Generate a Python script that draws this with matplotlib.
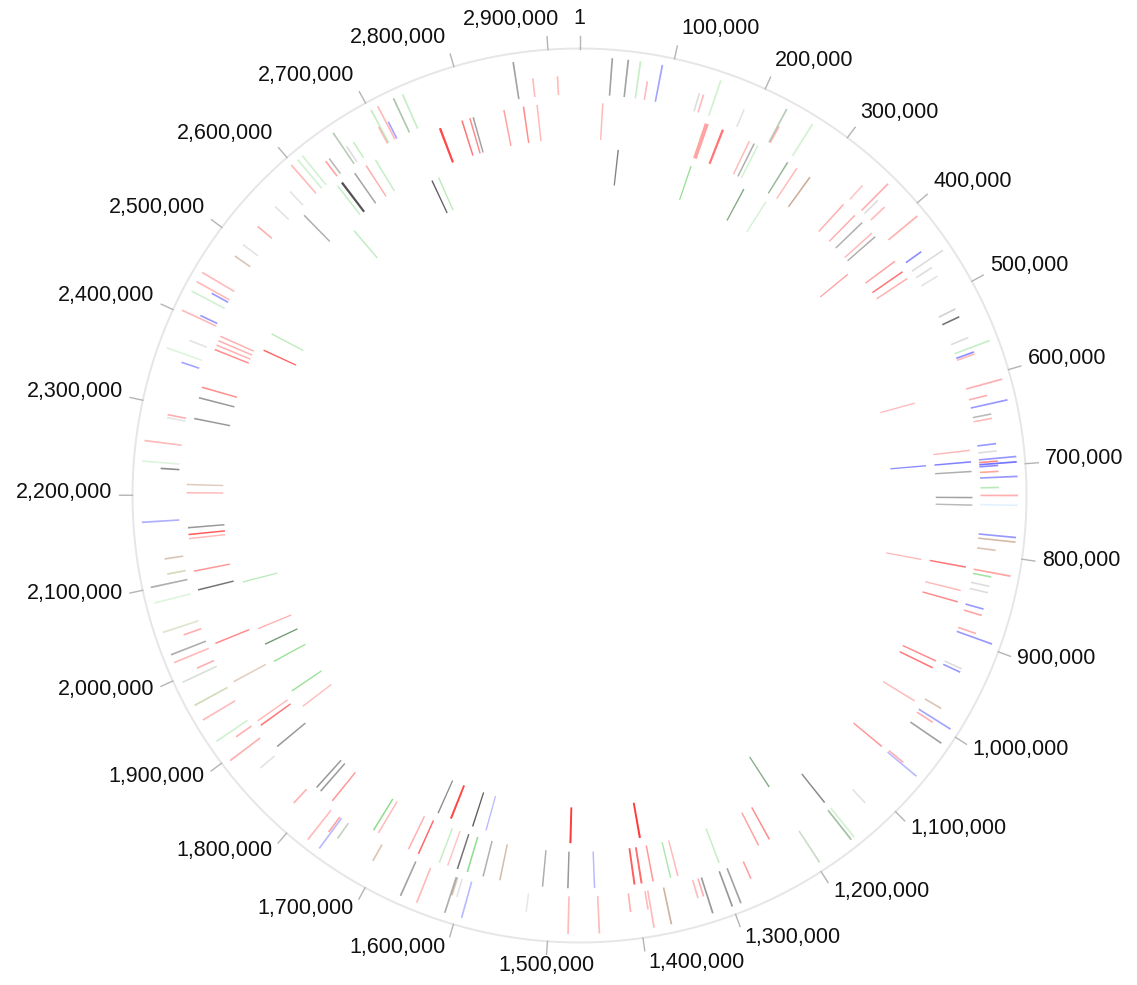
import matplotlib
matplotlib.use("Agg")
import matplotlib.pyplot as plt
from matplotlib.colors import to_rgba
import numpy as np

genome_length = 2933000
tick_positions = [1] + [i * 100000 for i in range(1, 30)]
tick_labels = ["1"] + [f"{p:,}" for p in tick_positions[1:]]

# genes per ring: (position kb, height fraction, colour code, opacity)
outer_genes = [
    (35.0, 1, 'k', 0.4), (52.1, 1, 'k', 0.4), (65.2, 1, 'g', 0.25), (75.8, .5, 'r', 0.3), (88.8, 1, 'b', 0.4),
    (135.2, .5, 'k', 0.15), (140.1, .5, 'r', 0.3), (153.2, 1, 'g', 0.2), (188.2, .5, 'k', 0.12), (229.8, 1, 'd', 0.35),
    (231.4, .5, 'r', 0.3), (261.5, 1, 'g', 0.2), (345.4, .5, 'r', 0.25), (364.2, 1, 'r', 0.35), (369.1, .5, 'k', 0.15),
    (379.7, .5, 'r', 0.3), (410.6, 1, 'r', 0.35), (444.0, .5, 'b', 0.5), (456.2, 1, 'k', 0.15), (465.2, .5, 'k', 0.15),
    (476.6, .5, 'k', 0.12), (518.2, .5, 'k', 0.2), (527.9, .5, 'k', 0.6), (553.2, .5, 'k', 0.15), (564.6, 1, 'g', 0.25),
    (570.3, .5, 'b', 0.5), (572.7, .5, 'r', 0.3), (607.8, 1, 'r', 0.35), (620.8, .5, 'r', 0.35), (630.6, 1, 'b', 0.45),
    (642.0, .5, 'k', 0.3), (646.9, .5, 'r', 0.3), (675.4, .5, 'b', 0.45), (683.6, .5, 'k', 0.15), (691.7, 1, 'b', 0.45),
    (694.9, .5, 'r', 0.5), (697.4, 1, 'b', 0.6), (699.8, .5, 'b', 0.5), (706.4, .5, 'r', 0.4), (712.9, 1, 'b', 0.45),
    (724.3, .5, 'g', 0.3), (733.2, 1, 'r', 0.35), (743.8, 1, 'c', 0.15),
    (778.1, 1, 'b', 0.45), (783.0, 1, 'n', 0.4), (794.4, .5, 'n', 0.35), (819.6, 1, 'r', 0.4), (824.5, .5, 'g', 0.4),
    (835.1, .5, 'k', 0.15), (842.4, .5, 'k', 0.15), (861.2, .5, 'b', 0.45), (868.5, .5, 'r', 0.4), (889.7, .5, 'r', 0.35),
    (894.6, 1, 'b', 0.45), (932.0, .5, 'k', 0.15), (936.1, .5, 'b', 0.45), (981.7, .5, 'n', 0.35), (995.6, 1, 'b', 0.4),
    (999.7, .5, 'r', 0.35), (1013.5, 1, 'k', 0.4), (1055.1, .5, 'r', 0.35), (1057.5, 1, 'b', 0.3),
    (1117.0, .5, 'k', 0.12), (1150.4, 1, 'g', 0.2), (1154.5, 1, 'd', 0.45), (1196.0, 1, 'd', 0.25), (1270.1, .5, 'r', 0.4),
    (1290.5, 1, 'k', 0.4), (1300.3, 1, 'k', 0.45), (1322.3, 1, 'k', 0.45), (1326.4, .5, 'r', 0.35), (1332.9, .5, 'r', 0.3),
    (1367.9, 1, 'n', 0.45), (1386.7, 1, 'r', 0.3), (1389.9, .5, 'r', 0.3), (1409.5, .5, 'r', 0.35), (1445.3, 1, 'r', 0.3),
    (1478.7, 1, 'r', 0.3), (1526.0, .5, 'k', 0.1), (1593.6, 1, 'b', 0.3), (1605.0, .5, 'k', 0.12), (1610.7, .5, 'n', 0.35),
    (1612.3, 1, 'k', 0.35), (1644.1, 1, 'r', 0.3), (1662.8, 1, 'k', 0.4), (1706.8, .5, 'n', 0.35), (1753.3, .5, 'd', 0.3),
    (1763.1, 1, 'b', 0.3), (1765.5, .5, 'r', 0.4), (1778.5, 1, 'r', 0.3), (1816.0, .5, 'r', 0.35), (1869.8, .5, 'k', 0.12),
    (1896.7, 1, 'r', 0.35), (1913.8, .5, 'r', 0.35), (1921.9, 1, 'g', 0.2), (1948.8, 1, 'r', 0.3),
    (1966.7, 1, 'o', 0.35), (1994.4, 1, 'd', 0.2), (2001.8, .5, 'r', 0.35), (2017.2, 1, 'r', 0.3), (2026.2, 1, 'k', 0.35),
    (2041.7, .5, 'r', 0.35), (2051.5, 1, 'o', 0.25), (2084.1, 1, 'g', 0.15), (2101.2, 1, 'k', 0.35), (2111.8, .5, 'o', 0.35),
    (2128.9, .5, 'n', 0.35), (2171.2, 1, 'b', 0.35), (2229.9, .5, 'k', 0.5), (2236.4, 1, 'g', 0.15), (2258.4, 1, 'r', 0.3),
    (2286.9, .5, 'k', 0.12), (2290.2, .5, 'r', 0.35), (2350.5, .5, 'b', 0.4), (2360.2, 1, 'g', 0.15), (2376.5, .5, 'k', 0.12),
    (2403.4, 1, 'r', 0.3), (2406.7, .5, 'b', 0.45), (2426.2, 1, 'g', 0.2), (2434.4, .5, 'b', 0.45), (2437.6, 1, 'r', 0.3),
    (2449.0, 1, 'r', 0.3),
    (2483.2, .5, 'n', 0.35), (2498.8, .5, 'k', 0.12), (2524.8, .5, 'r', 0.35), (2554.2, .5, 'k', 0.12), (2577.8, .5, 'k', 0.12),
    (2598.2, 1, 'r', 0.3), (2607.1, 1, 'g', 0.2), (2613.6, 1, 'g', 0.2), (2629.9, .5, 'r', 0.4), (2634.8, .5, 'k', 0.3),
    (2654.4, 1, 'd', 0.35), (2658.4, .5, 'k', 0.15), (2667.4, .5, 'g', 0.25), (2700.0, .5, 'r', 0.3), (2701.6, 1, 'g', 0.25),
    (2709.8, 1, 'r', 0.3), (2712.2, .5, 'b', 0.4), (2728.5, 1, 'd', 0.4), (2739.1, 1, 'g', 0.25), (2862.1, 1, 'k', 0.4),
    (2880.9, .5, 'r', 0.3), (2908.5, .5, 'r', 0.3),
]

# (position kb, colour code, opacity)
middle_genes = [
    (27.7, 'r', 0.3), (154.0, 'r', 0.4), (174.4, 'r', 0.6), (208.6, 'r', 0.3), (215.1, 'k', 0.35), (220.0, 'g', 0.2),
    (260.7, 'd', 0.5), (273.7, 'r', 0.3), (292.5, 'n', 0.5), (343.8, 'r', 0.35), (362.6, 'r', 0.35), (374.8, 'k', 0.35),
    (391.9, 'r', 0.3), (397.6, 'k', 0.35), (435.1, 'r', 0.4), (450.5, 'r', 0.6), (460.3, 'r', 0.35),
    (679.5, 'r', 0.3), (693.3, 'b', 0.55), (704.7, 'k', 0.35), (735.7, 'k', 0.4), (744.7, 'k', 0.3),
    (818.8, 'r', 0.6), (847.3, 'r', 0.3), (861.2, 'r', 0.5), (936.1, 'r', 0.5), (945.1, 'r', 0.6), (989.9, 'r', 0.3),
    (1056.7, 'r', 0.45), (1152.0, 'k', 0.5), (1231.0, 'r', 0.5), (1245.7, 'r', 0.4), (1297.0, 'g', 0.25),
    (1348.4, 'r', 0.3), (1357.3, 'g', 0.35), (1378.5, 'r', 0.45), (1392.4, 'r', 0.65), (1400.9, 'r', 0.7), (1448.6, 'b', 0.3),
    (1480.3, 'k', 0.45), (1510.5, 'k', 0.35), (1561.8, 'n', 0.4), (1582.2, 'k', 0.35), (1601.7, 'g', 0.5), (1614.0, 'k', 0.6),
    (1626.2, 'r', 0.25), (1636.8, 'g', 0.25), (1663.7, 'r', 0.65), (1676.7, 'r', 0.35), (1717.4, 'r', 0.3), (1724.0, 'g', 0.5),
    (1784.2, 'r', 0.45), (1802.2, 'k', 0.45), (1808.7, 'k', 0.45), (1876.3, 'k', 0.45), (1908.1, 'r', 0.6), (1914.6, 'r', 0.3),
    (1969.2, 'n', 0.3), (2019.7, 'r', 0.5), (2086.5, 'k', 0.6), (2109.3, 'r', 0.45), (2148.4, 'r', 0.3), (2153.3, 'r', 0.7),
    (2161.4, 'k', 0.45), (2203.0, 'r', 0.3), (2212.8, 'n', 0.3), (2291.8, 'k', 0.45), (2317.1, 'k', 0.45), (2330.1, 'r', 0.5),
    (2377.4, 'r', 0.5), (2383.1, 'r', 0.35), (2388.8, 'r', 0.35), (2394.5, 'r', 0.35),
    (2570.4, 'k', 0.35), (2623.4, 'g', 0.25), (2629.9, 'k', 0.75), (2648.7, 'k', 0.4), (2665.0, 'r', 0.35), (2678.0, 'g', 0.25),
    (2763.5, 'r', 0.8), (2791.2, 'r', 0.6), (2801.0, 'r', 0.5), (2805.1, 'k', 0.4), (2842.6, 'r', 0.4), (2866.2, 'r', 0.5),
    (2882.5, 'r', 0.3),
]

inner_genes = [
    (52.1, 'k', 0.55), (152.4, 'g', 0.45), (229.8, 'd', 0.6), (264.0, 'g', 0.2), (411.4, 'r', 0.4), (607.8, 'r', 0.3),
    (693.3, 'b', 0.5), (819.6, 'r', 0.3), (1197.2, 'd', 0.6), (1385.0, 'r', 0.85), (1478.7, 'r', 0.85), (1593.6, 'b', 0.3),
    (1612.3, 'k', 0.7), (1643.3, 'r', 0.8), (1662.0, 'k', 0.5), (1895.9, 'r', 0.3), (1921.1, 'g', 0.45), (1967.6, 'g', 0.45),
    (1993.6, 'd', 0.7), (2016.4, 'r', 0.35), (2082.4, 'g', 0.3), (2401.0, 'r', 0.7), (2425.4, 'g', 0.3), (2603.8, 'g', 0.3),
    (2728.5, 'k', 0.7), (2738.3, 'g', 0.3),
]

# genes longer than the default length: (ring, position kb, length kb)
wide_genes = [('middle', 154.0, 5.0), ('middle', 174.4, 2.8), ('middle', 2629.9, 2.8), ('middle', 2763.5, 2.8),
              ('middle', 1392.4, 2.4), ('middle', 1400.9, 2.4),
              ('inner', 1385.0, 2.8), ('inner', 1478.7, 2.8), ('inner', 1643.3, 2.8)]
default_len_kb = 1.9

colours = {'r': '#ff0000', 'k': '#000000', 'g': '#00b300', 'b': '#0000ff',
           'n': '#8b4513', 'o': '#6b8e23', 'd': '#1f5f1f', 'c': '#3399ff'}
rings = {'outer': (0.897, 0.981), 'middle': (0.797, 0.879), 'inner': (0.698, 0.778)}
wide = {(r, p): l for r, p, l in wide_genes}

fig = plt.figure(figsize=(11.37, 9.85), dpi=100)
ax = fig.add_axes([0.11654, 0.04315, 0.78628, 0.90761], projection='polar')
ax.set_theta_zero_location('N')
ax.set_theta_direction(-1)
ax.set_ylim(0, 1)
ax.set_axis_off()

def draw_ring(name, genes):
    lo, hi = rings[name]
    pos = np.array([g[0] for g in genes])
    theta = 2 * np.pi * pos * 1000 / genome_length
    width = np.array([wide.get((name, g[0]), default_len_kb) for g in genes]) * 1000 / genome_length * 2 * np.pi
    if name == 'outer':
        frac = np.array([g[1] for g in genes])
        cols = [to_rgba(colours[g[2]], g[3] * 0.9) for g in genes]
    else:
        frac = np.ones(len(genes))
        cols = [to_rgba(colours[g[1]], g[2] * 0.9) for g in genes]
    ax.bar(theta, (hi - lo) * frac, width=width, bottom=lo, color=cols, linewidth=0, align='center')

draw_ring('outer', outer_genes)
draw_ring('middle', middle_genes)
draw_ring('inner', inner_genes)

circ = np.linspace(0, 2 * np.pi, 721)
ax.plot(circ, np.ones_like(circ), color='#e6e6e6', lw=1.4, clip_on=False)

anns = []
for p, lab in zip(tick_positions, tick_labels):
    t = 2 * np.pi * p / genome_length
    ax.plot([t, t], [1.0, 1.029], color='#b4b4b4', lw=1.0, clip_on=False)
    a = ax.annotate(lab, xy=(t, 1.038), xytext=(0, 0), textcoords='offset pixels',
                    ha='center', va='center', fontsize=15.5, color='#111111',
                    family=['Liberation Sans', 'DejaVu Sans'], annotation_clip=False)
    anns.append((a, t))

fig.canvas.draw()
renderer = fig.canvas.get_renderer()
for a, t in anns:
    bb = a.get_window_extent(renderer)
    s, c = np.sin(t), np.cos(t)
    if c >= 0:
        f = np.clip(s / 0.1, -1, 1)
    else:
        f = 0 if abs(s) < 0.1 else np.sign(s)
    a.xyann = (f * (bb.width / 2 + 3), c * bb.height / 2 + 3)

plt.savefig('out.png', dpi=100)
